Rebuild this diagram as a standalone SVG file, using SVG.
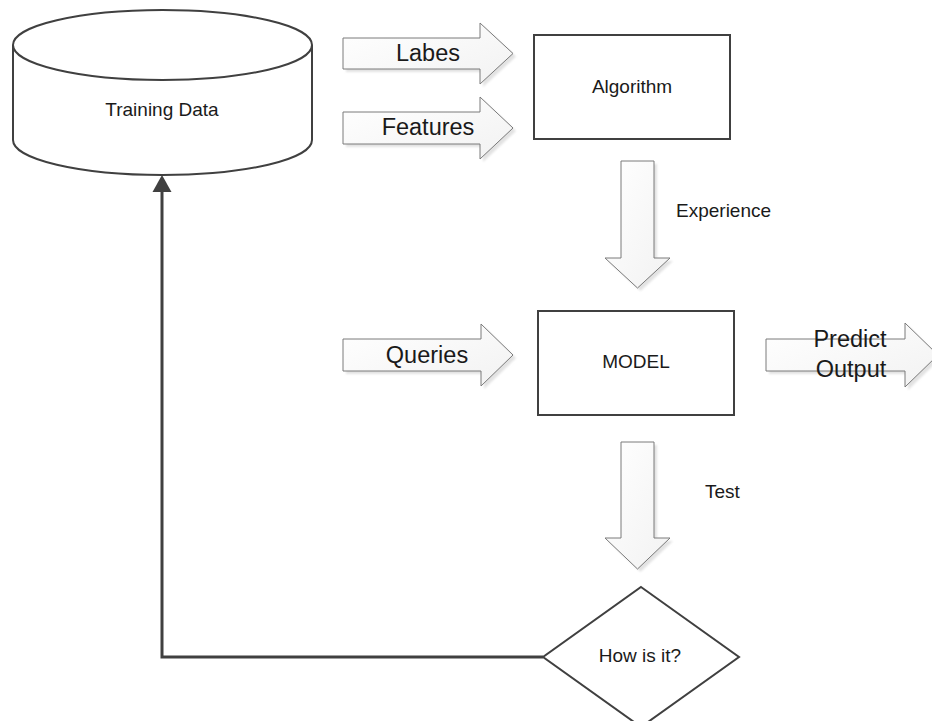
<svg xmlns="http://www.w3.org/2000/svg" width="932" height="721" viewBox="0 0 932 721">
  <defs>
    <linearGradient id="arrowFill" x1="0" y1="0" x2="1" y2="1">
      <stop offset="0" stop-color="#ffffff"/>
      <stop offset="1" stop-color="#f2f2f2"/>
    </linearGradient>
    <filter id="soft" x="-10%" y="-10%" width="130%" height="130%">
      <feGaussianBlur stdDeviation="1"/>
    </filter>
  </defs>
  <style>
    .box { fill: #ffffff; stroke: #404040; stroke-width: 2; }
    .block { fill: url(#arrowFill); stroke: #7a7a7a; stroke-width: 1; }
    .shadow { fill: #e2e2e2; filter: url(#soft); }
    .lbl { font-family: "Liberation Sans", Arial, sans-serif; font-size: 19px; fill: #1a1a1a; }
    .big { font-family: "Liberation Sans", Arial, sans-serif; font-size: 23.5px; fill: #1a1a1a; }
    .mid { text-anchor: middle; }
    .link { fill: none; stroke: #404040; stroke-width: 3; }
  </style>

  <rect width="932" height="721" fill="#ffffff"/>

  <!-- data store -->
  <g id="training-data">
    <path class="box" d="M13,45 V140 A149.5,35 0 0 0 312,140 V45"/>
    <ellipse class="box" cx="162.5" cy="45" rx="149.5" ry="35"/>
    <text class="lbl mid" x="162" y="116">Training Data</text>
  </g>

  <!-- input arrows -->
  <g id="labes">
    <path class="shadow" transform="translate(3,3)" d="M343,38 H480 V23 L513,53.5 L480,84 V69 H343 Z"/>
    <path class="block" d="M343,38 H480 V23 L513,53.5 L480,84 V69 H343 Z"/>
    <text class="big mid" x="428" y="61">Labes</text>
  </g>

  <g id="features">
    <path class="shadow" transform="translate(3,3)" d="M343,112 H480 V97 L513,128 L480,159 V144 H343 Z"/>
    <path class="block" d="M343,112 H480 V97 L513,128 L480,159 V144 H343 Z"/>
    <text class="big mid" x="428" y="135">Features</text>
  </g>

  <g id="algorithm">
    <rect class="box" x="534" y="35" width="196" height="104"/>
    <text class="lbl mid" x="632" y="93">Algorithm</text>
  </g>

  <g id="experience">
    <path class="shadow" transform="translate(3,3)" d="M621,161 H654 V258 H670 L637.5,288 L605,258 H621 Z"/>
    <path class="block" d="M621,161 H654 V258 H670 L637.5,288 L605,258 H621 Z"/>
    <text class="lbl" x="676" y="217">Experience</text>
  </g>

  <g id="queries">
    <path class="shadow" transform="translate(3,3)" d="M343,339 H481 V324 L513,355 L481,386 V371 H343 Z"/>
    <path class="block" d="M343,339 H481 V324 L513,355 L481,386 V371 H343 Z"/>
    <text class="big mid" x="427" y="363">Queries</text>
  </g>

  <g id="model">
    <rect class="box" x="538" y="311" width="196" height="104"/>
    <text class="lbl mid" x="636" y="368">MODEL</text>
  </g>

  <g id="predict-output">
    <path class="shadow" transform="translate(3,3)" d="M766,339 H905 V323 L938,355 L905,387 V371 H766 Z"/>
    <path class="block" d="M766,339 H905 V323 L938,355 L905,387 V371 H766 Z"/>
    <text class="big mid" x="850" y="347">Predict</text>
    <text class="big mid" x="851" y="377">Output</text>
  </g>

  <g id="test">
    <path class="shadow" transform="translate(3,3)" d="M621,442 H654 V538 H670 L637.5,569 L605,538 H621 Z"/>
    <path class="block" d="M621,442 H654 V538 H670 L637.5,569 L605,538 H621 Z"/>
    <text class="lbl" x="705" y="498">Test</text>
  </g>

  <g id="how-is-it">
    <path class="box" stroke-width="1.5" d="M641,587 L739,657 L641,727 L543,657 Z"/>
    <text class="lbl mid" x="640" y="662">How is it?</text>
  </g>

  <!-- feedback connector -->
  <g id="connectors">
    <polyline class="link" points="543,657 162,657 162,190"/>
    <path d="M162,175 L171.5,192 L152.5,192 Z" fill="#404040"/>
  </g>
</svg>
